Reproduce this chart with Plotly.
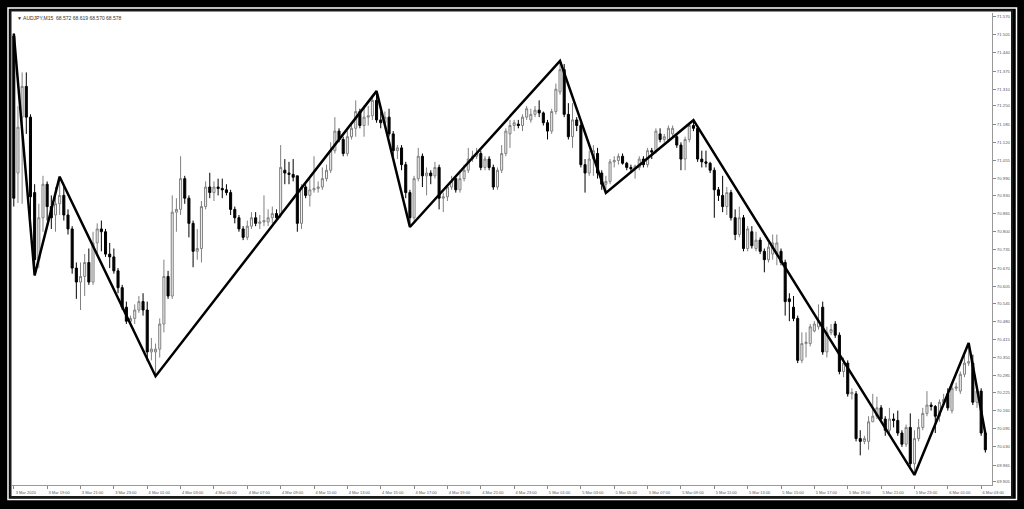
import pandas as pd
import plotly.graph_objects as go

# ---------------- data (AUDJPY M15) ----------------
opens = [71.50, 71.01, 71.21, 71.32, 71.21, 70.94, 70.70, 70.85, 70.97, 70.89,
         70.86, 70.90, 70.93, 70.86, 70.81, 70.67, 70.62, 70.64, 70.69, 70.62,
         70.76, 70.81, 70.80, 70.72, 70.71, 70.66, 70.60, 70.53, 70.48, 70.49,
         70.52, 70.55, 70.52, 70.37, 70.37, 70.38, 70.47, 70.64, 70.57, 70.87,
         70.88, 70.99, 70.92, 70.83, 70.73, 70.74, 70.89, 70.96, 70.94, 70.96,
         70.955, 70.95, 70.94, 70.88, 70.85, 70.81, 70.78, 70.82, 70.85, 70.83,
         70.835, 70.835, 70.85, 70.865, 70.86, 71.02, 71.01, 71.005, 71.00, 70.83,
         70.96, 70.93, 70.95, 70.955, 70.96, 70.99, 71.02, 71.09, 71.16, 71.13,
         71.08, 71.14, 71.17, 71.23, 71.18, 71.21, 71.215, 71.27, 71.20, 71.19,
         71.21, 71.15, 71.09, 71.10, 71.04, 70.94, 70.85, 70.99, 71.07, 71.00,
         71.01, 71.00, 71.03, 70.92, 70.925, 70.96, 70.99, 70.95, 70.99, 71.02,
         71.06, 71.07, 71.08, 71.03, 71.06, 71.03, 70.96, 71.02, 71.08, 71.15,
         71.18, 71.185, 71.18, 71.21, 71.20, 71.22, 71.235, 71.225, 71.19, 71.16,
         71.23, 71.30, 71.38, 71.22, 71.14, 71.20, 71.18, 71.04, 71.01, 71.06,
         71.08, 71.01, 70.97, 70.98, 71.05, 71.055, 71.07, 71.045, 71.03, 71.025,
         71.03, 71.06, 71.04, 71.09, 71.09, 71.15, 71.13, 71.13, 71.15, 71.14,
         71.11, 71.06, 71.13, 71.18, 71.17, 71.06, 71.05, 71.045, 71.02, 70.95,
         70.93, 70.89, 70.94, 70.85, 70.79, 70.85, 70.74, 70.80, 70.74, 70.77,
         70.73, 70.70, 70.72, 70.72, 70.73, 70.69, 70.56, 70.53, 70.49, 70.34,
         70.40, 70.40, 70.445, 70.46, 70.53, 70.37, 70.44, 70.47, 70.43, 70.30,
         70.33, 70.22, 70.22, 70.06, 70.05, 70.05, 70.12, 70.14, 70.17, 70.13,
         70.09, 70.13, 70.125, 70.08, 70.04, 70.10, 69.97, 70.06, 70.10, 70.15,
         70.18, 70.175, 70.14, 70.19, 70.22, 70.16, 70.24, 70.23, 70.29, 70.33,
         70.33, 70.19, 70.23, 70.08]

highs = [71.509, 71.249, 71.37, 71.37, 71.22, 70.97, 70.90, 71.00, 70.98, 70.93,
         70.96, 70.997, 70.96, 70.88, 70.82, 70.69, 70.69, 70.72, 70.74, 70.80,
         70.83, 70.84, 70.81, 70.76, 70.74, 70.67, 70.61, 70.55, 70.50, 70.54,
         70.57, 70.58, 70.55, 70.42, 70.40, 70.49, 70.70, 70.66, 70.93, 70.92,
         71.07, 71.00, 70.93, 70.84, 70.81, 70.91, 70.98, 71.011, 70.98, 70.99,
         70.99, 70.97, 70.95, 70.89, 70.86, 70.82, 70.84, 70.87, 70.87, 70.86,
         70.93, 70.88, 70.89, 70.88, 71.11, 71.06, 71.05, 71.06, 71.00, 70.97,
         70.97, 70.99, 71.07, 70.98, 71.03, 71.04, 71.12, 71.21, 71.17, 71.14,
         71.16, 71.19, 71.27, 71.24, 71.25, 71.25, 71.29, 71.303, 71.23, 71.23,
         71.24, 71.16, 71.11, 71.11, 71.05, 70.95, 71.00, 71.10, 71.08, 71.03,
         71.02, 71.05, 71.04, 70.94, 70.97, 71.00, 71.00, 71.01, 71.04, 71.10,
         71.09, 71.10, 71.09, 71.07, 71.07, 71.04, 71.03, 71.11, 71.17, 71.20,
         71.20, 71.20, 71.22, 71.25, 71.24, 71.25, 71.27, 71.23, 71.20, 71.24,
         71.33, 71.411, 71.40, 71.26, 71.26, 71.21, 71.19, 71.06, 71.09, 71.11,
         71.10, 71.02, 71.00, 71.06, 71.07, 71.08, 71.08, 71.05, 71.04, 71.04,
         71.07, 71.07, 71.10, 71.10, 71.17, 71.17, 71.15, 71.18, 71.18, 71.15,
         71.12, 71.14, 71.19, 71.199, 71.18, 71.09, 71.09, 71.05, 71.03, 70.96,
         71.00, 70.96, 70.95, 70.88, 70.89, 70.86, 70.82, 70.82, 70.80, 70.78,
         70.74, 70.76, 70.79, 70.79, 70.74, 70.70, 70.58, 70.57, 70.50, 70.44,
         70.44, 70.47, 70.48, 70.54, 70.55, 70.46, 70.47, 70.48, 70.44, 70.35,
         70.34, 70.24, 70.23, 70.09, 70.07, 70.14, 70.22, 70.21, 70.18, 70.14,
         70.17, 70.15, 70.16, 70.09, 70.11, 70.15, 70.09, 70.13, 70.17, 70.23,
         70.19, 70.18, 70.20, 70.22, 70.24, 70.25, 70.26, 70.30, 70.36, 70.402,
         70.36, 70.24, 70.24, 70.09]

lows = [70.89, 70.903, 70.90, 71.15, 70.85, 70.644, 70.67, 70.80, 70.84, 70.81,
        70.80, 70.86, 70.84, 70.79, 70.65, 70.56, 70.52, 70.57, 70.61, 70.61,
        70.72, 70.73, 70.71, 70.67, 70.65, 70.58, 70.52, 70.47, 70.46, 70.47,
        70.51, 70.50, 70.337, 70.34, 70.283, 70.35, 70.44, 70.56, 70.56, 70.80,
        70.86, 70.90, 70.78, 70.673, 70.70, 70.69, 70.88, 70.92, 70.91, 70.93,
        70.92, 70.93, 70.86, 70.83, 70.80, 70.77, 70.77, 70.81, 70.82, 70.81,
        70.82, 70.82, 70.83, 70.84, 70.85, 70.97, 70.97, 70.98, 70.80, 70.81,
        70.92, 70.89, 70.94, 70.94, 70.95, 70.98, 71.01, 71.08, 71.12, 71.07,
        71.07, 71.13, 71.14, 71.17, 71.14, 71.18, 71.20, 71.19, 71.17, 71.18,
        71.14, 71.07, 71.06, 71.02, 70.92, 70.817, 70.84, 70.98, 70.96, 70.93,
        70.97, 70.99, 70.88, 70.87, 70.91, 70.95, 70.94, 70.94, 70.98, 71.01,
        71.05, 71.06, 71.02, 71.02, 71.02, 70.95, 70.95, 71.01, 71.07, 71.10,
        71.16, 71.17, 71.16, 71.20, 71.19, 71.21, 71.21, 71.18, 71.13, 71.15,
        71.22, 71.29, 71.21, 71.13, 71.10, 71.16, 71.03, 70.94, 71.00, 71.00,
        70.99, 70.95, 70.939, 70.97, 71.03, 71.04, 71.04, 71.02, 71.01, 70.99,
        71.02, 71.03, 71.03, 71.06, 71.08, 71.12, 71.12, 71.12, 71.14, 71.10,
        71.02, 71.02, 71.12, 71.16, 71.05, 71.03, 71.03, 71.01, 70.85, 70.91,
        70.87, 70.86, 70.84, 70.77, 70.78, 70.73, 70.73, 70.74, 70.73, 70.72,
        70.655, 70.69, 70.70, 70.68, 70.68, 70.50, 70.48, 70.48, 70.33, 70.33,
        70.35, 70.39, 70.44, 70.45, 70.36, 70.35, 70.43, 70.42, 70.29, 70.28,
        70.21, 70.20, 70.05, 70.00, 70.04, 70.02, 70.12, 70.13, 70.12, 70.07,
        70.08, 70.10, 70.07, 70.03, 70.03, 69.96, 69.930, 70.05, 70.09, 70.14,
        70.16, 70.08, 70.12, 70.18, 70.16, 70.15, 70.23, 70.22, 70.28, 70.32,
        70.18, 70.17, 70.07, 70.01]

closes = [70.92, 71.174, 71.32, 71.21, 70.925, 70.70, 70.85, 70.97, 70.89, 70.85,
          70.90, 70.93, 70.86, 70.81, 70.67, 70.62, 70.64, 70.69, 70.62, 70.76,
          70.81, 70.80, 70.72, 70.71, 70.66, 70.60, 70.53, 70.48, 70.49, 70.52,
          70.55, 70.52, 70.37, 70.38, 70.38, 70.47, 70.64, 70.57, 70.87, 70.88,
          70.99, 70.92, 70.83, 70.73, 70.74, 70.89, 70.96, 70.94, 70.96, 70.955,
          70.95, 70.94, 70.88, 70.85, 70.81, 70.78, 70.82, 70.85, 70.83, 70.835,
          70.84, 70.85, 70.865, 70.85, 71.03, 71.01, 71.005, 70.995, 70.83, 70.96,
          70.93, 70.95, 70.955, 70.96, 70.99, 71.02, 71.09, 71.16, 71.13, 71.08,
          71.14, 71.17, 71.23, 71.18, 71.21, 71.215, 71.27, 71.20, 71.19, 71.21,
          71.15, 71.09, 71.10, 71.04, 70.94, 70.85, 70.99, 71.07, 71.00, 71.01,
          71.00, 71.03, 70.92, 70.925, 70.96, 70.98, 70.95, 70.99, 71.02, 71.06,
          71.07, 71.08, 71.03, 71.06, 71.03, 70.96, 71.02, 71.08, 71.16, 71.18,
          71.19, 71.18, 71.21, 71.24, 71.22, 71.235, 71.225, 71.19, 71.16, 71.23,
          71.31, 71.38, 71.22, 71.14, 71.20, 71.18, 71.04, 71.01, 71.06, 71.09,
          71.01, 70.97, 70.98, 71.05, 71.055, 71.07, 71.045, 71.03, 71.025, 71.035,
          71.06, 71.04, 71.09, 71.085, 71.16, 71.13, 71.14, 71.17, 71.17, 71.11,
          71.06, 71.13, 71.18, 71.17, 71.06, 71.05, 71.045, 71.02, 70.95, 70.93,
          70.89, 70.94, 70.85, 70.79, 70.85, 70.74, 70.81, 70.75, 70.77, 70.73,
          70.70, 70.745, 70.76, 70.76, 70.69, 70.55, 70.55, 70.49, 70.34, 70.40,
          70.405, 70.46, 70.47, 70.48, 70.37, 70.44, 70.45, 70.43, 70.30, 70.33,
          70.22, 70.225, 70.06, 70.05, 70.06, 70.12, 70.14, 70.17, 70.13, 70.09,
          70.13, 70.125, 70.08, 70.04, 70.10, 69.97, 70.06, 70.10, 70.15, 70.18,
          70.175, 70.14, 70.19, 70.20, 70.17, 70.24, 70.245, 70.29, 70.33, 70.335,
          70.19, 70.23, 70.08, 70.02]

# zigzag vertices: bar index and price
zz_bars = [0, 5, 11, 34, 87, 95, 131, 142, 163, 216, 229, 233]
zz_prices = [71.509, 70.644, 70.997, 70.283, 71.303, 70.817, 71.411, 70.939,
             71.199, 69.930, 70.402, 70.078]

price_ticks = [71.570, 71.505, 71.440, 71.375, 71.310, 71.250, 71.185, 71.120,
               71.055, 70.990, 70.930, 70.865, 70.800, 70.735, 70.670, 70.605,
               70.545, 70.480, 70.415, 70.350, 70.285, 70.225, 70.160, 70.095,
               70.030, 69.965, 69.905]

time_labels = ["3 Mar 2020", "3 Mar 19:00", "3 Mar 21:00", "3 Mar 23:00",
               "4 Mar 01:00", "4 Mar 03:00", "4 Mar 05:00", "4 Mar 07:00",
               "4 Mar 09:00", "4 Mar 11:00", "4 Mar 13:00", "4 Mar 15:00",
               "4 Mar 17:00", "4 Mar 19:00", "4 Mar 21:00", "4 Mar 23:00",
               "5 Mar 01:00", "5 Mar 03:00", "5 Mar 05:00", "5 Mar 07:00",
               "5 Mar 09:00", "5 Mar 11:00", "5 Mar 13:00", "5 Mar 15:00",
               "5 Mar 17:00", "5 Mar 19:00", "5 Mar 21:00", "5 Mar 23:00",
               "6 Mar 01:00", "6 Mar 03:00"]

header_text = "AUDJPY,M15  68.572 68.619 68.570 68.578"

# ---------------- figure ----------------
times = pd.date_range("2020-03-03 17:00", periods=len(closes), freq="15min")
zz_times = [times[i] for i in zz_bars]
tick_times = list(times[::8])

W, H = 1024, 509
ML, MR, MT, MB = 12, 32, 13, 24
PW, PH = W - ML - MR, H - MT - MB


def px(xp):
    return (xp - ML) / PW


def py(yp):
    return (H - MB - yp) / PH


fig = go.Figure()
fig.add_trace(go.Candlestick(
    x=times, open=opens, high=highs, low=lows, close=closes,
    increasing=dict(line=dict(color="#808080", width=1), fillcolor="#f2f2f2"),
    decreasing=dict(line=dict(color="#000000", width=1), fillcolor="#000000"),
    whiskerwidth=0, showlegend=False, hoverinfo="skip",
))
fig.add_trace(go.Scatter(
    x=zz_times, y=zz_prices, mode="lines",
    line=dict(color="#000000", width=2.5), showlegend=False, hoverinfo="skip",
))

shapes = [
    # thin white bevel line inside the black outer frame
    dict(type="rect", xref="paper", yref="paper", layer="below",
         x0=px(8), x1=px(1016.5), y0=py(499.5), y1=py(8),
         line=dict(color="#ffffff", width=1.5), fillcolor="rgba(0,0,0,0)"),
    # white chart window
    dict(type="rect", xref="paper", yref="paper", layer="below",
         x0=px(10.5), x1=px(1012), y0=py(497), y1=py(10.5),
         line=dict(color="#1a1a1a", width=2), fillcolor="#ffffff"),
]

fig.add_annotation(
    xref="paper", yref="paper", x=px(15), y=py(17.5), xanchor="left", yanchor="middle",
    text="▼ " + header_text, showarrow=False,
    font=dict(family="Liberation Sans, Arial, sans-serif", size=5, color="#333333"),
)

t0 = times[0]
step = pd.Timedelta(minutes=15)
fig.update_layout(
    width=W, height=H,
    margin=dict(l=ML, r=MR, t=MT, b=MB, pad=0),
    paper_bgcolor="#000000", plot_bgcolor="#ffffff",
    shapes=shapes, boxgap=0.3,
    xaxis=dict(
        type="date", range=[t0 - 0.43 * step, t0 + 234.6 * step],
        rangeslider=dict(visible=False),
        tickvals=tick_times, ticktext=time_labels,
        ticks="outside", ticklen=3, tickcolor="#888888", tickwidth=1,
        showline=True, linecolor="#999999", linewidth=1, mirror=False,
        showgrid=False, zeroline=False, ticklabelshift=12,
        tickfont=dict(family="Liberation Sans, Arial, sans-serif", size=4, color="#555555"),
    ),
    yaxis=dict(
        side="right", range=[69.894, 71.5825],
        tickvals=price_ticks, ticktext=[f"{v:.3f}" for v in price_ticks],
        ticks="outside", ticklen=3, tickcolor="#888888", tickwidth=1,
        showline=True, linecolor="#999999", linewidth=1,
        showgrid=False, zeroline=False,
        tickfont=dict(family="Liberation Sans, Arial, sans-serif", size=4.3, color="#555555"),
    ),
)

fig.write_html(
    "out.html",
    config={"displayModeBar": False, "staticPlot": True},
    post_script="document.body.style.margin='0px';document.body.style.overflow='hidden';",
)
